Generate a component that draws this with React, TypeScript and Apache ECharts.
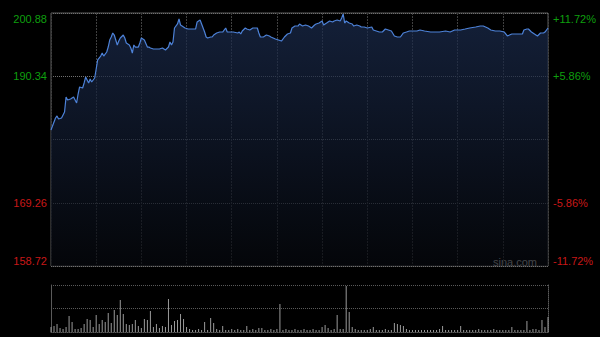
import React, { useEffect, useRef } from "react";
import * as echarts from "echarts";

const PREV_CLOSE = 179.8;
const PRICE_MIN = 158.72;
const PRICE_MAX = 200.88;
const PRICE_STEP = 10.54;
const PCT_MAX = 11.72;
const PCT_STEP = 5.86;

// minutes since open (HK session, 330 minutes)
const timesMin = [
  0, 3, 4, 5, 7, 9, 10, 11, 13, 15, 17, 18, 19, 21, 22, 23, 25, 26, 27, 29,
  30, 31, 33, 34, 35, 37, 38, 39, 40, 41, 42, 44, 45, 46, 48, 49, 50, 52, 53, 54,
  55, 56, 58, 59, 60, 62, 64, 65, 66, 68, 70, 72, 74, 76, 78, 79, 80, 81, 82, 84,
  85, 86, 88, 89, 91, 94, 96, 97, 99, 100, 102, 103, 104, 106, 107, 108, 110, 112, 114, 116,
  117, 119, 121, 124, 125, 126, 127, 129, 130, 132, 134, 137, 138, 139, 141, 143, 145, 146, 149, 151,
  153, 155, 157, 159, 160, 162, 164, 165, 167, 169, 171, 173, 175, 176, 178, 180, 181, 183, 185, 187,
  188, 190, 192, 193, 194, 195, 196, 198, 200, 201, 203, 205, 206, 208, 210, 213, 214, 216, 218, 220,
  222, 224, 226, 228, 230, 232, 234, 236, 238, 243, 245, 248, 252, 255, 258, 262, 265, 268, 272, 275,
  278, 282, 285, 287, 290, 292, 295, 298, 301, 303, 306, 309, 313, 314, 316, 317, 319, 321, 323, 325,
  327, 328, 330,
];

const prices = [
  181.38, 183.38, 183.72, 183.22, 183.38, 184.38, 186.88, 186.38, 186.55, 186.88, 185.88, 187.38, 188.55, 188.38, 189.22, 190.21, 189.22, 189.88, 189.38, 190.05,
  191.55, 193.05, 193.71, 194.21, 193.71, 194.38, 195.21, 196.38, 196.88, 197.55, 197.21, 195.55, 196.21, 196.71, 197.21, 196.71, 195.88, 195.55, 195.05, 194.21,
  195.55, 195.21, 195.21, 195.88, 196.71, 196.38, 195.21, 195.21, 195.05, 194.88, 194.88, 194.88, 195.05, 194.71, 195.21, 196.05, 195.55, 196.05, 198.38, 199.05,
  199.88, 198.88, 198.55, 198.38, 198.21, 198.21, 198.21, 199.38, 199.71, 199.05, 197.71, 196.88, 196.71, 196.88, 196.88, 197.21, 197.55, 197.71, 197.71, 198.38,
  197.71, 197.71, 197.71, 197.55, 197.71, 197.38, 197.88, 198.38, 198.21, 198.05, 198.38, 198.38, 197.55, 196.88, 196.88, 197.21, 197.05, 196.88, 196.55, 196.38,
  196.21, 196.88, 197.38, 197.55, 198.38, 198.71, 198.71, 199.05, 198.71, 198.88, 198.71, 198.38, 198.88, 199.05, 199.21, 199.55, 198.88, 199.21, 199.55, 199.38,
  199.55, 199.71, 199.55, 200.05, 200.71, 199.21, 199.55, 199.21, 199.05, 198.71, 198.88, 198.71, 198.55, 198.55, 198.38, 198.55, 198.05, 197.88, 197.71, 197.71,
  198.21, 198.05, 197.88, 197.05, 196.88, 196.88, 197.55, 197.71, 197.88, 197.88, 198.05, 197.88, 197.71, 197.71, 197.71, 197.88, 197.71, 198.05, 198.05, 198.21,
  198.38, 198.55, 198.71, 198.71, 198.38, 198.05, 197.88, 197.88, 197.71, 197.05, 197.38, 197.38, 197.38, 198.05, 198.21, 198.21, 197.71, 197.38, 197.05, 197.55,
  197.55, 197.71, 198.38,
];

// volume, one bar every 2 minutes
const VOL_STEP_MIN = 2;
const volumes = [
  5, 6, 8, 4, 3, 5, 16, 10, 3, 3, 4, 8, 13, 12, 5, 17, 8, 12, 10, 19,
  9, 22, 17, 32, 18, 8, 7, 8, 12, 6, 4, 13, 12, 21, 5, 8, 4, 6, 5, 33,
  7, 11, 12, 18, 13, 5, 3, 2, 2, 3, 2, 10, 2, 14, 9, 3, 2, 6, 2, 2,
  3, 2, 3, 2, 2, 6, 2, 3, 2, 4, 4, 2, 2, 3, 2, 3, 28, 2, 3, 2,
  2, 3, 2, 2, 3, 2, 2, 3, 2, 2, 5, 7, 4, 2, 3, 17, 3, 3, 46, 20,
  5, 3, 2, 2, 2, 2, 3, 5, 2, 2, 2, 3, 2, 2, 9, 8, 7, 6, 3, 2,
  2, 2, 2, 2, 2, 2, 2, 2, 2, 3, 6, 2, 2, 2, 2, 2, 6, 2, 2, 2,
  2, 2, 3, 2, 2, 2, 2, 3, 2, 2, 2, 2, 2, 5, 2, 2, 2, 2, 11, 2,
  3, 3, 2, 12, 5, 15,
];
const VOL_MAX = 47;

const GREEN = "#0e9f0e";
const RED = "#c81818";
const FONT = "'Liberation Sans', Arial, sans-serif";

function fmtPct(v: number) {
  if (Math.abs(v) < 1e-6) return "";
  const s = Math.abs(v).toFixed(2) + "%";
  return v > 0 ? "{g|+" + s + "}" : "{r|-" + s + "}";
}

function fmtPrice(v: number) {
  if (Math.abs(v - PREV_CLOSE) < 1e-6) return "";
  const s = v.toFixed(2);
  return v > PREV_CLOSE ? "{g|" + s + "}" : "{r|" + s + "}";
}

export default function App() {
  const ref = useRef<HTMLDivElement>(null);
  useEffect(() => {
    if (!ref.current) return;
    const chart = echarts.init(ref.current, undefined, { renderer: "svg" });
    const lineData = timesMin.map((t, i) => [t, prices[i]]);
    const volData = volumes.map((v, i) => [i * VOL_STEP_MIN, v]);
    const rich = {
      g: { color: GREEN, fontSize: 11, fontFamily: FONT },
      r: { color: RED, fontSize: 11, fontFamily: FONT },
    };
    chart.setOption({
      animation: false,
      backgroundColor: "#000",
      grid: [
        { left: 51, right: 52, top: 13, height: 253, show: true, borderColor: "#5a5a5a", borderWidth: 1, backgroundColor: "transparent" },
        { left: 51, right: 52, top: 285, height: 47, show: false },
      ],
      xAxis: [
        {
          type: "value", gridIndex: 0, min: 0, max: 330, interval: 30,
          axisLine: { show: false }, axisTick: { show: false }, axisLabel: { show: false },
          splitLine: { show: true, lineStyle: { color: "#404040", type: [2, 1], width: 1 } },
        },
        {
          type: "value", gridIndex: 1, min: 0, max: 330,
          axisLine: { show: true, lineStyle: { color: "#5a5a5a", type: [1, 1] } }, axisTick: { show: false }, axisLabel: { show: false },
          splitLine: { show: false },
        },
      ],
      yAxis: [
        {
          type: "value", gridIndex: 0, min: PRICE_MIN, max: PRICE_MAX, interval: PRICE_STEP,
          axisLine: { show: false }, axisTick: { show: false },
          axisLabel: {
            show: true, margin: 4, formatter: fmtPrice, rich,
            verticalAlignMinLabel: "bottom", verticalAlignMaxLabel: "top",
          },
          splitLine: { show: true, lineStyle: { color: "#707070", type: [1, 1], width: 1 } },
        },
        {
          type: "value", gridIndex: 0, position: "right", min: -PCT_MAX, max: PCT_MAX, interval: PCT_STEP,
          axisLine: { show: false }, axisTick: { show: false },
          axisLabel: {
            show: true, margin: 5, formatter: fmtPct, rich,
            verticalAlignMinLabel: "bottom", verticalAlignMaxLabel: "top",
          },
          splitLine: { show: false },
        },
        {
          type: "value", gridIndex: 1, min: 0, max: VOL_MAX, interval: VOL_MAX / 2,
          axisLine: { show: true, lineStyle: { color: "#5a5a5a", width: 1 } }, axisTick: { show: false }, axisLabel: { show: false },
          splitLine: { show: true, lineStyle: { color: "#5a5a5a", type: [1, 1], width: 1 } },
        },
        {
          type: "value", gridIndex: 1, position: "right", min: 0, max: VOL_MAX,
          axisLine: { show: true, lineStyle: { color: "#5a5a5a", type: [1, 1], width: 1 } }, axisTick: { show: false }, axisLabel: { show: false },
          splitLine: { show: false },
        },
      ],
      series: [
        {
          type: "line", xAxisIndex: 0, yAxisIndex: 0, data: lineData, symbol: "none",
          lineStyle: { color: "#4d82d8", width: 1.2 },
          areaStyle: {
            origin: "start",
            color: new echarts.graphic.LinearGradient(0, 0, 0, 1, [
              { offset: 0, color: "#1c2d50" },
              { offset: 1, color: "#06080d" },
            ]),
          },
        },
        {
          type: "bar", xAxisIndex: 1, yAxisIndex: 2, data: volData, barWidth: 1,
          itemStyle: { color: "#9a9a9a" },
        },
      ],
      graphic: [
        {
          type: "text", right: 63, top: 256,
          style: { text: "sina.com", fill: "#cfcfcf", fontSize: 11, fontFamily: FONT },
        },
      ],
    });
    return () => chart.dispose();
  }, []);
  return (
    <div style={{ position: "fixed", left: 0, top: 0, width: 600, height: 337, background: "#000" }}>
      <div ref={ref} style={{ width: 600, height: 337 }} />
    </div>
  );
}
